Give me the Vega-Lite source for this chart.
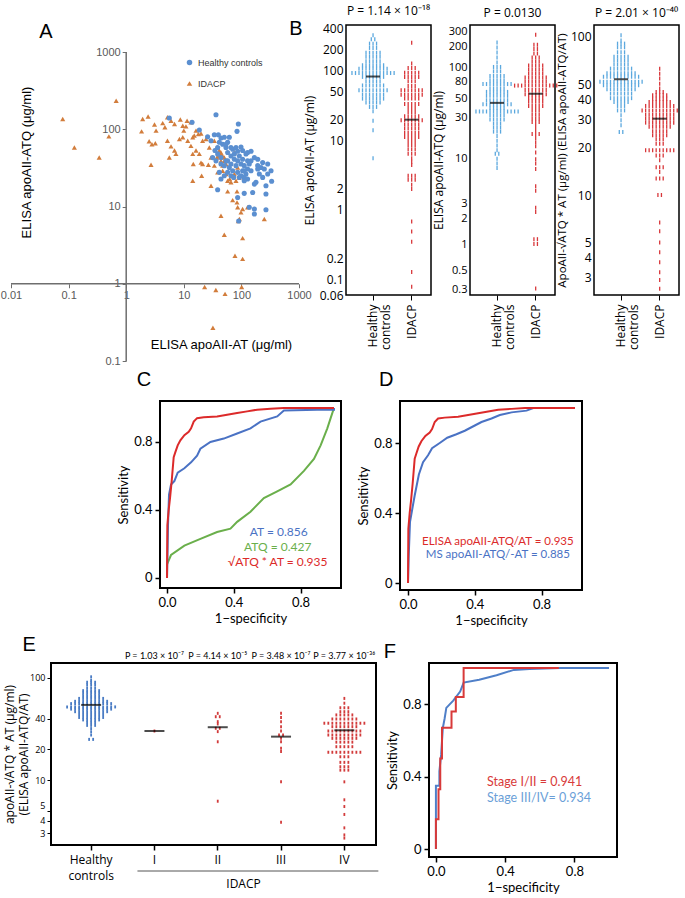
{
"$schema":"https://vega.github.io/schema/vega-lite/v6.json",
"padding":{"left":0,"top":3,"right":0,"bottom":0},
"background":"white",
"config":{"view":{"stroke":null},"font":"Open Sans","axis":{"grid":false,"labelColor":"#000","titleColor":"#000","tickColor":"#000","domainColor":"#000","titleFontWeight":"normal","labelFontSize":12,"titleFontSize":12,"labelFlush":false},"title":{"fontWeight":"normal","fontSize":12,"color":"#000"}},
"datasets":{
"a":[{"g":"D","x":0.079,"y":136},{"g":"D","x":0.126,"y":58},{"g":"D","x":0.34,"y":43},{"g":"D","x":0.5,"y":81},{"g":"D","x":0.67,"y":234},{"g":"D","x":23,"y":0.91},{"g":"D","x":36,"y":0.83},{"g":"D","x":52,"y":0.74},{"g":"D","x":101,"y":0.91},{"g":"D","x":32,"y":0.27},{"g":"D","x":1.93,"y":136},{"g":"D","x":2.4,"y":146},{"g":"D","x":3.1,"y":115},{"g":"D","x":1.85,"y":94},{"g":"D","x":2.5,"y":70},{"g":"D","x":2.8,"y":64},{"g":"D","x":3.2,"y":66},{"g":"D","x":2.7,"y":34.7},{"g":"D","x":4.7,"y":106},{"g":"D","x":6,"y":129},{"g":"D","x":8.7,"y":134},{"g":"D","x":6.9,"y":117},{"g":"D","x":5.2,"y":71},{"g":"D","x":6,"y":60},{"g":"D","x":6.9,"y":53},{"g":"D","x":7.3,"y":48},{"g":"D","x":5.6,"y":43},{"g":"D","x":5.2,"y":143},{"g":"D","x":4.3,"y":120},{"g":"D","x":3.3,"y":96},{"g":"D","x":9.6,"y":111},{"g":"D","x":10,"y":96},{"g":"D","x":10.9,"y":109},{"g":"D","x":11.4,"y":129},{"g":"D","x":13.3,"y":123},{"g":"D","x":8.4,"y":75},{"g":"D","x":9.6,"y":79},{"g":"D","x":11.7,"y":71},{"g":"D","x":14.3,"y":79},{"g":"D","x":16.3,"y":96},{"g":"D","x":15.2,"y":83},{"g":"D","x":17.9,"y":87},{"g":"D","x":19.9,"y":88},{"g":"D","x":21.2,"y":71},{"g":"D","x":13.3,"y":61},{"g":"D","x":14.3,"y":48},{"g":"D","x":16.3,"y":53},{"g":"D","x":18.6,"y":48},{"g":"D","x":19.9,"y":37},{"g":"D","x":21.2,"y":35.5},{"g":"D","x":14.6,"y":35.5},{"g":"D","x":14.3,"y":21.6},{"g":"D","x":20.4,"y":25},{"g":"D","x":24.3,"y":75},{"g":"D","x":27.7,"y":58},{"g":"D","x":29.7,"y":43},{"g":"D","x":26.7,"y":34.7},{"g":"D","x":29.7,"y":18.6},{"g":"D","x":33.9,"y":33.8},{"g":"D","x":37.7,"y":43},{"g":"D","x":41.4,"y":53},{"g":"D","x":44.2,"y":39},{"g":"D","x":38.7,"y":27.7},{"g":"D","x":47.3,"y":33.8},{"g":"D","x":50.5,"y":43},{"g":"D","x":54,"y":26.3},{"g":"D","x":57.7,"y":21.6},{"g":"D","x":65.9,"y":20.6},{"g":"D","x":37.7,"y":58},{"g":"D","x":33.9,"y":71},{"g":"D","x":43.1,"y":48},{"g":"D","x":47.3,"y":29},{"g":"D","x":62.5,"y":22.7},{"g":"D","x":75.4,"y":26.3},{"g":"D","x":80.6,"y":21.6},{"g":"D","x":75.4,"y":50},{"g":"D","x":86.1,"y":32},{"g":"D","x":92.1,"y":23.8},{"g":"D","x":83.9,"y":15.7},{"g":"D","x":57.7,"y":15.7},{"g":"D","x":70.5,"y":12.1},{"g":"D","x":83.9,"y":11.3},{"g":"D","x":86.1,"y":9.8},{"g":"D","x":98.4,"y":8.4},{"g":"D","x":105,"y":9.3},{"g":"D","x":92.1,"y":6.9},{"g":"D","x":88.5,"y":6.5},{"g":"D","x":128,"y":9.8},{"g":"D","x":44.2,"y":7.6},{"g":"D","x":50.5,"y":4.3},{"g":"D","x":105,"y":3.9},{"g":"D","x":77.4,"y":2.3},{"g":"D","x":105,"y":2.1},{"g":"D","x":250,"y":6.9},{"g":"D","x":39.5,"y":45},{"g":"D","x":44.2,"y":50},{"g":"D","x":50.5,"y":39},{"g":"D","x":47.3,"y":45},{"g":"D","x":54,"y":35.5},
{"g":"H","x":5.6,"y":140},{"g":"H","x":13.9,"y":123},{"g":"H","x":18.6,"y":98},{"g":"H","x":36.2,"y":154},{"g":"H","x":88.5,"y":117},{"g":"H","x":83.9,"y":94},{"g":"H","x":25.9,"y":80},{"g":"H","x":33.9,"y":85},{"g":"H","x":39.8,"y":85},{"g":"H","x":44.2,"y":77},{"g":"H","x":50.5,"y":79},{"g":"H","x":61.7,"y":79},{"g":"H","x":57.7,"y":68},{"g":"H","x":29.7,"y":71},{"g":"H","x":47.3,"y":64},{"g":"H","x":38.7,"y":58},{"g":"H","x":54,"y":58},{"g":"H","x":70.5,"y":55},{"g":"H","x":80.6,"y":58},{"g":"H","x":98.4,"y":59},{"g":"H","x":105,"y":53},{"g":"H","x":120,"y":48},{"g":"H","x":128,"y":50},{"g":"H","x":147,"y":52},{"g":"H","x":168,"y":43},{"g":"H","x":192,"y":41},{"g":"H","x":234,"y":37},{"g":"H","x":286,"y":35.5},{"g":"H","x":219,"y":32},{"g":"H","x":250,"y":30.6},{"g":"H","x":327,"y":29},{"g":"H","x":286,"y":26.3},{"g":"H","x":57.7,"y":50},{"g":"H","x":65.9,"y":45},{"g":"H","x":75.4,"y":41},{"g":"H","x":86.1,"y":39},{"g":"H","x":98.4,"y":35.5},{"g":"H","x":112,"y":33.8},{"g":"H","x":128,"y":30.6},{"g":"H","x":147,"y":29},{"g":"H","x":105,"y":29},{"g":"H","x":120,"y":26.3},{"g":"H","x":112,"y":23.8},{"g":"H","x":128,"y":22.7},{"g":"H","x":92.1,"y":23.8},{"g":"H","x":80.6,"y":33.8},{"g":"H","x":65.9,"y":35.5},{"g":"H","x":54,"y":39},{"g":"H","x":44.2,"y":43},{"g":"H","x":38.7,"y":48},{"g":"H","x":36.2,"y":39},{"g":"H","x":31.7,"y":43},{"g":"H","x":50.5,"y":33.8},{"g":"H","x":61.7,"y":32},{"g":"H","x":70.5,"y":29},{"g":"H","x":86.1,"y":27.7},{"g":"H","x":98.4,"y":25},{"g":"H","x":112,"y":21.6},{"g":"H","x":179,"y":20.6},{"g":"H","x":168,"y":19.5},{"g":"H","x":267,"y":18.6},{"g":"H","x":267,"y":14.5},{"g":"H","x":157,"y":15.2},{"g":"H","x":112,"y":14.8},{"g":"H","x":86.1,"y":13.1},{"g":"H","x":38.7,"y":16.5},{"g":"H","x":44.2,"y":22.7},{"g":"H","x":137,"y":9.8},{"g":"H","x":168,"y":9.3},{"g":"H","x":168,"y":8},{"g":"H","x":267,"y":9.1},{"g":"H","x":89.7,"y":6.5},{"g":"H","x":335,"y":21.2},{"g":"H","x":65.9,"y":25},{"g":"H","x":50.5,"y":25},{"g":"H","x":41.4,"y":27.7},{"g":"H","x":57.7,"y":39},{"g":"H","x":75.4,"y":48},{"g":"H","x":92.1,"y":45},{"g":"H","x":147,"y":39},{"g":"H","x":192,"y":33.8},{"g":"H","x":105,"y":41},{"g":"H","x":128,"y":39},{"g":"H","x":86.1,"y":52},{"g":"H","x":65.9,"y":58},{"g":"H","x":54,"y":64},{"g":"H","x":41.4,"y":68},{"g":"H","x":34.8,"y":53},{"g":"H","x":44.2,"y":35.5},{"g":"H","x":57.7,"y":27.7},{"g":"H","x":73.4,"y":23.8},{"g":"H","x":112,"y":29},{"g":"H","x":137,"y":35.5},{"g":"H","x":205,"y":26.3},{"g":"H","x":234,"y":23.8},{"g":"H","x":192,"y":30.6}],
"b1":[{"g":"H","v":320},{"g":"H","v":280},{"g":"H","v":280},{"g":"H","v":243},{"g":"H","v":243},{"g":"H","v":243},{"g":"H","v":211},{"g":"H","v":211},{"g":"H","v":211},{"g":"H","v":180},{"g":"H","v":180},{"g":"H","v":180},{"g":"H","v":180},{"g":"H","v":180},{"g":"H","v":157},{"g":"H","v":157},{"g":"H","v":157},{"g":"H","v":157},{"g":"H","v":157},{"g":"H","v":136},{"g":"H","v":136},{"g":"H","v":136},{"g":"H","v":136},{"g":"H","v":136},{"g":"H","v":119},{"g":"H","v":119},{"g":"H","v":119},{"g":"H","v":119},{"g":"H","v":119},{"g":"H","v":119},{"g":"H","v":119},{"g":"H","v":106},{"g":"H","v":106},{"g":"H","v":106},{"g":"H","v":106},{"g":"H","v":106},{"g":"H","v":106},{"g":"H","v":106},{"g":"H","v":106},{"g":"H","v":106},{"g":"H","v":92},{"g":"H","v":92},{"g":"H","v":92},{"g":"H","v":92},{"g":"H","v":92},{"g":"H","v":92},{"g":"H","v":92},{"g":"H","v":92},{"g":"H","v":92},{"g":"H","v":92},{"g":"H","v":92},{"g":"H","v":92},{"g":"H","v":92},{"g":"H","v":81},{"g":"H","v":81},{"g":"H","v":81},{"g":"H","v":81},{"g":"H","v":81},{"g":"H","v":81},{"g":"H","v":81},{"g":"H","v":70},{"g":"H","v":70},{"g":"H","v":70},{"g":"H","v":70},{"g":"H","v":70},{"g":"H","v":61},{"g":"H","v":61},{"g":"H","v":61},{"g":"H","v":61},{"g":"H","v":61},{"g":"H","v":61},{"g":"H","v":61},{"g":"H","v":52},{"g":"H","v":52},{"g":"H","v":52},{"g":"H","v":52},{"g":"H","v":52},{"g":"H","v":52},{"g":"H","v":52},{"g":"H","v":52},{"g":"H","v":52},{"g":"H","v":45},{"g":"H","v":45},{"g":"H","v":45},{"g":"H","v":45},{"g":"H","v":45},{"g":"H","v":45},{"g":"H","v":45},{"g":"H","v":39.5},{"g":"H","v":39.5},{"g":"H","v":39.5},{"g":"H","v":39.5},{"g":"H","v":39.5},{"g":"H","v":39.5},{"g":"H","v":39.5},{"g":"H","v":34.7},{"g":"H","v":34.7},{"g":"H","v":34.7},{"g":"H","v":34.7},{"g":"H","v":34.7},{"g":"H","v":30},{"g":"H","v":30},{"g":"H","v":30},{"g":"H","v":26},{"g":"H","v":19},{"g":"H","v":13.9},{"g":"H","v":5.5},
{"g":"D","v":251},{"g":"D","v":126},{"g":"D","v":109},{"g":"D","v":109},{"g":"D","v":109},{"g":"D","v":93},{"g":"D","v":93},{"g":"D","v":93},{"g":"D","v":93},{"g":"D","v":93},{"g":"D","v":81},{"g":"D","v":81},{"g":"D","v":81},{"g":"D","v":81},{"g":"D","v":81},{"g":"D","v":70},{"g":"D","v":70},{"g":"D","v":70},{"g":"D","v":60},{"g":"D","v":60},{"g":"D","v":60},{"g":"D","v":52},{"g":"D","v":52},{"g":"D","v":52},{"g":"D","v":52},{"g":"D","v":52},{"g":"D","v":52},{"g":"D","v":52},{"g":"D","v":45},{"g":"D","v":45},{"g":"D","v":45},{"g":"D","v":45},{"g":"D","v":45},{"g":"D","v":45},{"g":"D","v":45},{"g":"D","v":39.5},{"g":"D","v":39.5},{"g":"D","v":39.5},{"g":"D","v":39.5},{"g":"D","v":39.5},{"g":"D","v":33},{"g":"D","v":33},{"g":"D","v":33},{"g":"D","v":33},{"g":"D","v":33},{"g":"D","v":29},{"g":"D","v":29},{"g":"D","v":29},{"g":"D","v":25.4},{"g":"D","v":25.4},{"g":"D","v":25.4},{"g":"D","v":22},{"g":"D","v":22},{"g":"D","v":22},{"g":"D","v":22},{"g":"D","v":22},{"g":"D","v":19.4},{"g":"D","v":19.4},{"g":"D","v":19.4},{"g":"D","v":19.4},{"g":"D","v":19.4},{"g":"D","v":19.4},{"g":"D","v":19.4},{"g":"D","v":16.8},{"g":"D","v":16.8},{"g":"D","v":16.8},{"g":"D","v":16.8},{"g":"D","v":16.8},{"g":"D","v":14.7},{"g":"D","v":14.7},{"g":"D","v":14.7},{"g":"D","v":14.7},{"g":"D","v":14.7},{"g":"D","v":12.7},{"g":"D","v":12.7},{"g":"D","v":12.7},{"g":"D","v":12.7},{"g":"D","v":12.7},{"g":"D","v":11.1},{"g":"D","v":11.1},{"g":"D","v":11.1},{"g":"D","v":11.1},{"g":"D","v":11.1},{"g":"D","v":9.7},{"g":"D","v":9.7},{"g":"D","v":9.7},{"g":"D","v":8.5},{"g":"D","v":8.5},{"g":"D","v":8.5},{"g":"D","v":7.4},{"g":"D","v":7.4},{"g":"D","v":7.4},{"g":"D","v":6.4},{"g":"D","v":6.4},{"g":"D","v":6.4},{"g":"D","v":5.5},{"g":"D","v":4.9},{"g":"D","v":4.4},{"g":"D","v":3.1},{"g":"D","v":3.1},{"g":"D","v":3.1},{"g":"D","v":2.7},{"g":"D","v":2.7},{"g":"D","v":2.7},{"g":"D","v":2.3},{"g":"D","v":2.0},{"g":"D","v":0.68},{"g":"D","v":0.49},{"g":"D","v":0.35},{"g":"D","v":0.128},{"g":"D","v":0.079}],
"b2":[{"g":"H","v":225},{"g":"H","v":197},{"g":"H","v":172},{"g":"H","v":151},{"g":"H","v":132},{"g":"H","v":117},{"g":"H","v":117},{"g":"H","v":117},{"g":"H","v":104},{"g":"H","v":104},{"g":"H","v":104},{"g":"H","v":92},{"g":"H","v":92},{"g":"H","v":92},{"g":"H","v":92},{"g":"H","v":92},{"g":"H","v":82},{"g":"H","v":82},{"g":"H","v":82},{"g":"H","v":82},{"g":"H","v":82},{"g":"H","v":74},{"g":"H","v":74},{"g":"H","v":74},{"g":"H","v":74},{"g":"H","v":74},{"g":"H","v":74},{"g":"H","v":74},{"g":"H","v":74},{"g":"H","v":74},{"g":"H","v":66},{"g":"H","v":66},{"g":"H","v":66},{"g":"H","v":66},{"g":"H","v":66},{"g":"H","v":60},{"g":"H","v":60},{"g":"H","v":60},{"g":"H","v":60},{"g":"H","v":60},{"g":"H","v":60},{"g":"H","v":60},{"g":"H","v":54},{"g":"H","v":54},{"g":"H","v":54},{"g":"H","v":54},{"g":"H","v":54},{"g":"H","v":54},{"g":"H","v":54},{"g":"H","v":48},{"g":"H","v":48},{"g":"H","v":48},{"g":"H","v":48},{"g":"H","v":48},{"g":"H","v":48},{"g":"H","v":48},{"g":"H","v":43},{"g":"H","v":43},{"g":"H","v":43},{"g":"H","v":43},{"g":"H","v":43},{"g":"H","v":43},{"g":"H","v":43},{"g":"H","v":43},{"g":"H","v":43},{"g":"H","v":39},{"g":"H","v":39},{"g":"H","v":39},{"g":"H","v":39},{"g":"H","v":39},{"g":"H","v":35.5},{"g":"H","v":35.5},{"g":"H","v":35.5},{"g":"H","v":35.5},{"g":"H","v":35.5},{"g":"H","v":35.5},{"g":"H","v":35.5},{"g":"H","v":35.5},{"g":"H","v":35.5},{"g":"H","v":35.5},{"g":"H","v":35.5},{"g":"H","v":35.5},{"g":"H","v":35.5},{"g":"H","v":32},{"g":"H","v":32},{"g":"H","v":32},{"g":"H","v":32},{"g":"H","v":32},{"g":"H","v":28.7},{"g":"H","v":28.7},{"g":"H","v":28.7},{"g":"H","v":28.7},{"g":"H","v":28.7},{"g":"H","v":25.7},{"g":"H","v":25.7},{"g":"H","v":25.7},{"g":"H","v":23.1},{"g":"H","v":23.1},{"g":"H","v":23.1},{"g":"H","v":20.7},{"g":"H","v":20.7},{"g":"H","v":20.7},{"g":"H","v":18.4},{"g":"H","v":16.2},{"g":"H","v":14.3},{"g":"H","v":12.6},{"g":"H","v":11.4},{"g":"H","v":11.4},{"g":"H","v":10},{"g":"H","v":8.8},{"g":"H","v":7.8},
{"g":"D","v":277},{"g":"D","v":212},{"g":"D","v":212},{"g":"D","v":189},{"g":"D","v":189},{"g":"D","v":168},{"g":"D","v":168},{"g":"D","v":151},{"g":"D","v":151},{"g":"D","v":151},{"g":"D","v":135},{"g":"D","v":135},{"g":"D","v":135},{"g":"D","v":122},{"g":"D","v":122},{"g":"D","v":122},{"g":"D","v":122},{"g":"D","v":122},{"g":"D","v":109},{"g":"D","v":109},{"g":"D","v":109},{"g":"D","v":109},{"g":"D","v":109},{"g":"D","v":98},{"g":"D","v":98},{"g":"D","v":98},{"g":"D","v":98},{"g":"D","v":98},{"g":"D","v":88},{"g":"D","v":88},{"g":"D","v":88},{"g":"D","v":88},{"g":"D","v":88},{"g":"D","v":88},{"g":"D","v":88},{"g":"D","v":79},{"g":"D","v":79},{"g":"D","v":79},{"g":"D","v":79},{"g":"D","v":79},{"g":"D","v":79},{"g":"D","v":79},{"g":"D","v":71},{"g":"D","v":71},{"g":"D","v":71},{"g":"D","v":71},{"g":"D","v":71},{"g":"D","v":71},{"g":"D","v":71},{"g":"D","v":71},{"g":"D","v":71},{"g":"D","v":71},{"g":"D","v":71},{"g":"D","v":71},{"g":"D","v":71},{"g":"D","v":63},{"g":"D","v":63},{"g":"D","v":63},{"g":"D","v":63},{"g":"D","v":63},{"g":"D","v":63},{"g":"D","v":63},{"g":"D","v":56.5},{"g":"D","v":56.5},{"g":"D","v":56.5},{"g":"D","v":56.5},{"g":"D","v":56.5},{"g":"D","v":56.5},{"g":"D","v":56.5},{"g":"D","v":51},{"g":"D","v":51},{"g":"D","v":51},{"g":"D","v":51},{"g":"D","v":51},{"g":"D","v":46},{"g":"D","v":46},{"g":"D","v":46},{"g":"D","v":46},{"g":"D","v":46},{"g":"D","v":41},{"g":"D","v":41},{"g":"D","v":41},{"g":"D","v":41},{"g":"D","v":41},{"g":"D","v":37},{"g":"D","v":37},{"g":"D","v":37},{"g":"D","v":33},{"g":"D","v":33},{"g":"D","v":33},{"g":"D","v":29.7},{"g":"D","v":29.7},{"g":"D","v":29.7},{"g":"D","v":26.7},{"g":"D","v":26.7},{"g":"D","v":26.7},{"g":"D","v":24},{"g":"D","v":21.6},{"g":"D","v":19.4},{"g":"D","v":19.4},{"g":"D","v":19.4},{"g":"D","v":17.4},{"g":"D","v":15.6},{"g":"D","v":14},{"g":"D","v":11.8},{"g":"D","v":9.9},{"g":"D","v":8.8},{"g":"D","v":7.6},{"g":"D","v":4.8},{"g":"D","v":4.25},{"g":"D","v":2.7},{"g":"D","v":2.4},{"g":"D","v":1.16},{"g":"D","v":1.16},{"g":"D","v":1.02},{"g":"D","v":1.02},{"g":"D","v":0.31}],
"b3":[{"g":"H","v":102.5},{"g":"H","v":95},{"g":"H","v":90.7},{"g":"H","v":90.7},{"g":"H","v":90.7},{"g":"H","v":86},{"g":"H","v":86},{"g":"H","v":86},{"g":"H","v":80},{"g":"H","v":80},{"g":"H","v":80},{"g":"H","v":75},{"g":"H","v":75},{"g":"H","v":75},{"g":"H","v":75},{"g":"H","v":75},{"g":"H","v":71},{"g":"H","v":71},{"g":"H","v":71},{"g":"H","v":71},{"g":"H","v":71},{"g":"H","v":67},{"g":"H","v":67},{"g":"H","v":67},{"g":"H","v":67},{"g":"H","v":67},{"g":"H","v":63},{"g":"H","v":63},{"g":"H","v":63},{"g":"H","v":63},{"g":"H","v":63},{"g":"H","v":63},{"g":"H","v":63},{"g":"H","v":59},{"g":"H","v":59},{"g":"H","v":59},{"g":"H","v":59},{"g":"H","v":59},{"g":"H","v":59},{"g":"H","v":59},{"g":"H","v":59},{"g":"H","v":59},{"g":"H","v":56},{"g":"H","v":56},{"g":"H","v":56},{"g":"H","v":56},{"g":"H","v":56},{"g":"H","v":56},{"g":"H","v":56},{"g":"H","v":56},{"g":"H","v":56},{"g":"H","v":56},{"g":"H","v":56},{"g":"H","v":52},{"g":"H","v":52},{"g":"H","v":52},{"g":"H","v":52},{"g":"H","v":52},{"g":"H","v":52},{"g":"H","v":52},{"g":"H","v":52},{"g":"H","v":52},{"g":"H","v":52},{"g":"H","v":52},{"g":"H","v":52},{"g":"H","v":52},{"g":"H","v":49.5},{"g":"H","v":49.5},{"g":"H","v":49.5},{"g":"H","v":49.5},{"g":"H","v":49.5},{"g":"H","v":49.5},{"g":"H","v":49.5},{"g":"H","v":49.5},{"g":"H","v":49.5},{"g":"H","v":49.5},{"g":"H","v":49.5},{"g":"H","v":46.7},{"g":"H","v":46.7},{"g":"H","v":46.7},{"g":"H","v":46.7},{"g":"H","v":46.7},{"g":"H","v":46.7},{"g":"H","v":46.7},{"g":"H","v":46.7},{"g":"H","v":46.7},{"g":"H","v":43.8},{"g":"H","v":43.8},{"g":"H","v":43.8},{"g":"H","v":43.8},{"g":"H","v":43.8},{"g":"H","v":43.8},{"g":"H","v":43.8},{"g":"H","v":41},{"g":"H","v":41},{"g":"H","v":41},{"g":"H","v":41},{"g":"H","v":41},{"g":"H","v":41},{"g":"H","v":41},{"g":"H","v":38.8},{"g":"H","v":38.8},{"g":"H","v":38.8},{"g":"H","v":38.8},{"g":"H","v":38.8},{"g":"H","v":36.6},{"g":"H","v":36.6},{"g":"H","v":36.6},{"g":"H","v":34.3},{"g":"H","v":34.3},{"g":"H","v":34.3},{"g":"H","v":31.9},{"g":"H","v":29.7},{"g":"H","v":27.6},{"g":"H","v":25},{"g":"H","v":25},
{"g":"D","v":63},{"g":"D","v":58.6},{"g":"D","v":54.5},{"g":"D","v":50.6},{"g":"D","v":47.1},{"g":"D","v":44.9},{"g":"D","v":44.9},{"g":"D","v":44.9},{"g":"D","v":42.8},{"g":"D","v":42.8},{"g":"D","v":42.8},{"g":"D","v":42.8},{"g":"D","v":42.8},{"g":"D","v":40.7},{"g":"D","v":40.7},{"g":"D","v":40.7},{"g":"D","v":40.7},{"g":"D","v":40.7},{"g":"D","v":38.8},{"g":"D","v":38.8},{"g":"D","v":38.8},{"g":"D","v":38.8},{"g":"D","v":38.8},{"g":"D","v":38.8},{"g":"D","v":38.8},{"g":"D","v":36.6},{"g":"D","v":36.6},{"g":"D","v":36.6},{"g":"D","v":36.6},{"g":"D","v":36.6},{"g":"D","v":36.6},{"g":"D","v":36.6},{"g":"D","v":36.6},{"g":"D","v":36.6},{"g":"D","v":34.3},{"g":"D","v":34.3},{"g":"D","v":34.3},{"g":"D","v":34.3},{"g":"D","v":34.3},{"g":"D","v":34.3},{"g":"D","v":34.3},{"g":"D","v":34.3},{"g":"D","v":34.3},{"g":"D","v":34.3},{"g":"D","v":34.3},{"g":"D","v":32.2},{"g":"D","v":32.2},{"g":"D","v":32.2},{"g":"D","v":32.2},{"g":"D","v":32.2},{"g":"D","v":32.2},{"g":"D","v":32.2},{"g":"D","v":32.2},{"g":"D","v":32.2},{"g":"D","v":30.4},{"g":"D","v":30.4},{"g":"D","v":30.4},{"g":"D","v":30.4},{"g":"D","v":30.4},{"g":"D","v":30.4},{"g":"D","v":30.4},{"g":"D","v":30.4},{"g":"D","v":30.4},{"g":"D","v":28.7},{"g":"D","v":28.7},{"g":"D","v":28.7},{"g":"D","v":28.7},{"g":"D","v":28.7},{"g":"D","v":28.7},{"g":"D","v":28.7},{"g":"D","v":28.7},{"g":"D","v":28.7},{"g":"D","v":27},{"g":"D","v":27},{"g":"D","v":27},{"g":"D","v":27},{"g":"D","v":27},{"g":"D","v":27},{"g":"D","v":27},{"g":"D","v":25.3},{"g":"D","v":25.3},{"g":"D","v":25.3},{"g":"D","v":25.3},{"g":"D","v":25.3},{"g":"D","v":23.9},{"g":"D","v":23.9},{"g":"D","v":23.9},{"g":"D","v":23.9},{"g":"D","v":23.9},{"g":"D","v":22.5},{"g":"D","v":22.5},{"g":"D","v":22.5},{"g":"D","v":21.1},{"g":"D","v":21.1},{"g":"D","v":21.1},{"g":"D","v":19.2},{"g":"D","v":19.2},{"g":"D","v":19.2},{"g":"D","v":19.2},{"g":"D","v":19.2},{"g":"D","v":19.2},{"g":"D","v":19.2},{"g":"D","v":19.2},{"g":"D","v":19.2},{"g":"D","v":17.8},{"g":"D","v":17.8},{"g":"D","v":17.8},{"g":"D","v":16.6},{"g":"D","v":15},{"g":"D","v":15},{"g":"D","v":15},{"g":"D","v":14},{"g":"D","v":12.7},{"g":"D","v":12.7},{"g":"D","v":12.7},{"g":"D","v":10},{"g":"D","v":10},{"g":"D","v":6.7},{"g":"D","v":5.9},{"g":"D","v":5},{"g":"D","v":4.35},{"g":"D","v":3.75},{"g":"D","v":3.25},{"g":"D","v":2.9},{"g":"D","v":2.55}],
"e":[{"g":"I","v":30.2},{"g":"II","v":45},{"g":"II","v":41.7},{"g":"II","v":41.7},{"g":"II","v":37.3},{"g":"II","v":35.4},{"g":"II","v":32.1},{"g":"II","v":32.1},{"g":"II","v":29.8},{"g":"II","v":23.7},{"g":"II","v":6.2},{"g":"III","v":45},{"g":"III","v":40.9},{"g":"III","v":37.3},{"g":"III","v":33.3},{"g":"III","v":30.2},{"g":"III","v":27.6},{"g":"III","v":27.6},{"g":"III","v":25.6},{"g":"III","v":23.7},{"g":"III","v":20.5},{"g":"III","v":19},{"g":"III","v":9.6},{"g":"III","v":3.85},
{"g":"IV","v":63},{"g":"IV","v":56.5},{"g":"IV","v":51},{"g":"IV","v":51},{"g":"IV","v":51},{"g":"IV","v":46.7},{"g":"IV","v":46.7},{"g":"IV","v":46.7},{"g":"IV","v":43.4},{"g":"IV","v":43.4},{"g":"IV","v":43.4},{"g":"IV","v":43.4},{"g":"IV","v":43.4},{"g":"IV","v":39.6},{"g":"IV","v":39.6},{"g":"IV","v":39.6},{"g":"IV","v":39.6},{"g":"IV","v":39.6},{"g":"IV","v":39.6},{"g":"IV","v":39.6},{"g":"IV","v":36},{"g":"IV","v":36},{"g":"IV","v":36},{"g":"IV","v":36},{"g":"IV","v":36},{"g":"IV","v":36},{"g":"IV","v":36},{"g":"IV","v":36},{"g":"IV","v":36},{"g":"IV","v":36},{"g":"IV","v":36},{"g":"IV","v":33.3},{"g":"IV","v":33.3},{"g":"IV","v":33.3},{"g":"IV","v":33.3},{"g":"IV","v":33.3},{"g":"IV","v":33.3},{"g":"IV","v":33.3},{"g":"IV","v":30.2},{"g":"IV","v":30.2},{"g":"IV","v":30.2},{"g":"IV","v":30.2},{"g":"IV","v":30.2},{"g":"IV","v":30.2},{"g":"IV","v":30.2},{"g":"IV","v":30.2},{"g":"IV","v":30.2},{"g":"IV","v":27.6},{"g":"IV","v":27.6},{"g":"IV","v":27.6},{"g":"IV","v":27.6},{"g":"IV","v":27.6},{"g":"IV","v":27.6},{"g":"IV","v":27.6},{"g":"IV","v":27.6},{"g":"IV","v":27.6},{"g":"IV","v":25.6},{"g":"IV","v":25.6},{"g":"IV","v":25.6},{"g":"IV","v":25.6},{"g":"IV","v":25.6},{"g":"IV","v":25.6},{"g":"IV","v":25.6},{"g":"IV","v":23.5},{"g":"IV","v":23.5},{"g":"IV","v":23.5},{"g":"IV","v":23.5},{"g":"IV","v":23.5},{"g":"IV","v":21.2},{"g":"IV","v":21.2},{"g":"IV","v":21.2},{"g":"IV","v":21.2},{"g":"IV","v":21.2},{"g":"IV","v":18.7},{"g":"IV","v":18.7},{"g":"IV","v":18.7},{"g":"IV","v":18.7},{"g":"IV","v":18.7},{"g":"IV","v":18.7},{"g":"IV","v":18.7},{"g":"IV","v":18.7},{"g":"IV","v":18.7},{"g":"IV","v":16.9},{"g":"IV","v":16.9},{"g":"IV","v":16.9},{"g":"IV","v":14.9},{"g":"IV","v":14.9},{"g":"IV","v":14.9},{"g":"IV","v":13.5},{"g":"IV","v":13.5},{"g":"IV","v":13.5},{"g":"IV","v":12.5},{"g":"IV","v":12.5},{"g":"IV","v":12.5},{"g":"IV","v":9.6},{"g":"IV","v":6.4},{"g":"IV","v":5.5},{"g":"IV","v":4.6},{"g":"IV","v":3.4},{"g":"IV","v":2.9},{"g":"IV","v":2.7}],
"med":[{"p":"B1","g":"H","m":82},{"p":"B1","g":"D","m":19.7},{"p":"B2","g":"H","m":44.7},{"p":"B2","g":"D","m":57},{"p":"B3","g":"H","m":54},{"p":"B3","g":"D","m":30.4},{"p":"E","g":"H","m":54.4},{"p":"E","g":"I","m":30.2},{"p":"E","g":"II","m":32.9},{"p":"E","g":"III","m":26.6},{"p":"E","g":"IV","m":30.7}],
"roc":[{"s":"SQ","x":0,"y":0},{"s":"SQ","x":0.002,"y":0.31},{"s":"SQ","x":0.01,"y":0.4},{"s":"SQ","x":0.018,"y":0.47},{"s":"SQ","x":0.028,"y":0.57},{"s":"SQ","x":0.04,"y":0.71},{"s":"SQ","x":0.05,"y":0.74},{"s":"SQ","x":0.064,"y":0.78},{"s":"SQ","x":0.08,"y":0.81},{"s":"SQ","x":0.104,"y":0.84},{"s":"SQ","x":0.13,"y":0.86},{"s":"SQ","x":0.144,"y":0.88},{"s":"SQ","x":0.16,"y":0.92},{"s":"SQ","x":0.18,"y":0.94},{"s":"SQ","x":0.22,"y":0.945},{"s":"SQ","x":0.3,"y":0.95},{"s":"SQ","x":0.36,"y":0.96},{"s":"SQ","x":0.42,"y":0.97},{"s":"SQ","x":0.48,"y":0.98},{"s":"SQ","x":0.54,"y":0.99},{"s":"SQ","x":0.62,"y":0.995},{"s":"SQ","x":0.7,"y":1},{"s":"SQ","x":1,"y":1},
{"s":"AT","x":0,"y":0},{"s":"AT","x":0.004,"y":0.19},{"s":"AT","x":0.006,"y":0.31},{"s":"AT","x":0.012,"y":0.49},{"s":"AT","x":0.024,"y":0.55},{"s":"AT","x":0.044,"y":0.57},{"s":"AT","x":0.064,"y":0.62},{"s":"AT","x":0.104,"y":0.645},{"s":"AT","x":0.144,"y":0.68},{"s":"AT","x":0.18,"y":0.72},{"s":"AT","x":0.2,"y":0.76},{"s":"AT","x":0.26,"y":0.8},{"s":"AT","x":0.34,"y":0.82},{"s":"AT","x":0.42,"y":0.85},{"s":"AT","x":0.5,"y":0.88},{"s":"AT","x":0.56,"y":0.92},{"s":"AT","x":0.66,"y":0.95},{"s":"AT","x":0.7,"y":0.985},{"s":"AT","x":0.9,"y":0.99},{"s":"AT","x":1,"y":0.99},{"s":"AT","x":1,"y":1},
{"s":"ATQ","x":0,"y":0},{"s":"ATQ","x":0,"y":0.08},{"s":"ATQ","x":0.024,"y":0.135},{"s":"ATQ","x":0.104,"y":0.19},{"s":"ATQ","x":0.2,"y":0.23},{"s":"ATQ","x":0.3,"y":0.27},{"s":"ATQ","x":0.38,"y":0.29},{"s":"ATQ","x":0.42,"y":0.33},{"s":"ATQ","x":0.5,"y":0.39},{"s":"ATQ","x":0.58,"y":0.47},{"s":"ATQ","x":0.66,"y":0.51},{"s":"ATQ","x":0.74,"y":0.55},{"s":"ATQ","x":0.82,"y":0.63},{"s":"ATQ","x":0.88,"y":0.7},{"s":"ATQ","x":0.92,"y":0.78},{"s":"ATQ","x":0.96,"y":0.88},{"s":"ATQ","x":0.98,"y":0.94},{"s":"ATQ","x":1,"y":1},
{"s":"MS","x":0,"y":0},{"s":"MS","x":0.004,"y":0.15},{"s":"MS","x":0.012,"y":0.35},{"s":"MS","x":0.025,"y":0.42},{"s":"MS","x":0.04,"y":0.5},{"s":"MS","x":0.065,"y":0.62},{"s":"MS","x":0.09,"y":0.69},{"s":"MS","x":0.12,"y":0.73},{"s":"MS","x":0.144,"y":0.77},{"s":"MS","x":0.19,"y":0.8},{"s":"MS","x":0.235,"y":0.83},{"s":"MS","x":0.29,"y":0.85},{"s":"MS","x":0.34,"y":0.87},{"s":"MS","x":0.4,"y":0.9},{"s":"MS","x":0.44,"y":0.92},{"s":"MS","x":0.5,"y":0.94},{"s":"MS","x":0.55,"y":0.96},{"s":"MS","x":0.62,"y":0.975},{"s":"MS","x":0.71,"y":0.985},{"s":"MS","x":0.75,"y":1},{"s":"MS","x":1,"y":1},
{"s":"S12","x":0,"y":0},{"s":"S12","x":0,"y":0.165},{"s":"S12","x":0.015,"y":0.33},{"s":"S12","x":0.025,"y":0.5},{"s":"S12","x":0.035,"y":0.67},{"s":"S12","x":0.09,"y":0.76},{"s":"S12","x":0.115,"y":0.84},{"s":"S12","x":0.16,"y":1},{"s":"S12","x":0.71,"y":1},
{"s":"S34","x":0,"y":0},{"s":"S34","x":0,"y":0.35},{"s":"S34","x":0.02,"y":0.35},{"s":"S34","x":0.02,"y":0.43},{"s":"S34","x":0.03,"y":0.52},{"s":"S34","x":0.04,"y":0.67},{"s":"S34","x":0.05,"y":0.72},{"s":"S34","x":0.06,"y":0.78},{"s":"S34","x":0.1,"y":0.82},{"s":"S34","x":0.14,"y":0.87},{"s":"S34","x":0.16,"y":0.92},{"s":"S34","x":0.25,"y":0.935},{"s":"S34","x":0.35,"y":0.96},{"s":"S34","x":0.45,"y":0.99},{"s":"S34","x":0.54,"y":0.995},{"s":"S34","x":0.72,"y":1},{"s":"S34","x":1,"y":1}]
},
"spacing":2,
"resolve":{"scale":{"xOffset":"independent"}},
"vconcat":[
{"hconcat":[
 {"width":296,"height":336,
  "layer":[
   {"data":{"values":[{}]},"mark":{"type":"rule","color":"#6e6e6e","strokeWidth":1.5},"encoding":{"x":{"datum":1,"type":"quantitative"},"y":{"datum":0.1,"type":"quantitative"},"y2":{"datum":1000}}},
   {"data":{"values":[{}]},"mark":{"type":"rule","color":"#6e6e6e","strokeWidth":1.5},"encoding":{"x":{"datum":0.01,"type":"quantitative"},"x2":{"datum":1000},"y":{"datum":1,"type":"quantitative"}}},
   {"data":{"name":"a"},"mark":{"type":"point","filled":true,"size":26,"opacity":1},
    "encoding":{
     "x":{"field":"x","type":"quantitative","scale":{"type":"log","domain":[0.01,1377],"nice":false},"axis":{"orient":"bottom","offset":-77.25,"values":[0.01,0.1,1,10,100,1000],"labelExpr":"''+datum.value","labelFlush":false,"domain":false,"tickColor":"#6e6e6e","tickSize":4,"labelColor":"#595959","labelFontSize":11,"labelFont":"Liberation Sans","title":"ELISA apoAII-AT (μg/ml)","titleFont":"Liberation Sans","titleFontSize":13,"titleX":210,"titleY":61,"titleBaseline":"middle","titleAlign":"center"}},
     "y":{"field":"y","type":"quantitative","scale":{"type":"log","domain":[0.1,2238],"nice":false},"axis":{"orient":"left","offset":-115.2,"values":[0.1,1,10,100,1000],"labelExpr":"''+datum.value","domain":false,"tickColor":"#6e6e6e","tickSize":4,"labelColor":"#595959","labelFontSize":11,"labelFont":"Liberation Sans","title":"ELISA apoAII-ATQ (μg/ml)","titleFont":"Liberation Sans","titleFontSize":13,"titleX":-100,"titleY":137,"titleAngle":-90,"titleBaseline":"middle","titleAlign":"center"}},
     "color":{"field":"g","type":"nominal","scale":{"domain":["H","D"],"range":["#5b8fd0","#d27d3c"]},"legend":{"orient":"none","legendX":174,"legendY":33,"title":null,"labelExpr":"datum.value=='H'?'Healthy controls':'IDACP'","labelFont":"Liberation Sans","labelFontSize":9,"labelColor":"#333","symbolSize":30,"rowPadding":11,"padding":0}},
     "shape":{"field":"g","type":"nominal","scale":{"domain":["H","D"],"range":["circle","triangle-up"]}}}},
   {"data":{"values":[{}]},"mark":{"type":"text","fontSize":20,"font":"Liberation Sans","align":"center","baseline":"middle"},"encoding":{"x":{"datum":0.0405},"y":{"datum":1816},"text":{"value":"A"}}},
   {"data":{"values":[{}]},"mark":{"type":"text","fontSize":20,"font":"Liberation Sans","align":"center","baseline":"middle"},"encoding":{"x":{"datum":887},"y":{"datum":1987},"text":{"value":"B"}}}
  ]},
  {"width":85,"height":270,"view":{"stroke":"#000","strokeWidth":1.5},
   "title":{"text":"P = 1.14 × 10⁻¹⁸","offset":5},
   "layer":[
    {"data":{"name":"b1"},"transform":[{"window":[{"op":"row_number","as":"rn"}],"groupby":["g","v"]},{"joinaggregate":[{"op":"count","as":"n"}],"groupby":["g","v"]},{"calculate":"datum.rn-(datum.n+1)/2","as":"off"}],
     "mark":{"type":"point","shape":"M0,-1L0,1","filled":false,"size":16,"strokeWidth":1.3,"opacity":1},
     "encoding":{
      "x":{"field":"g","type":"nominal","scale":{"type":"band","domain":["H","D"],"paddingInner":0,"paddingOuter":0.1,"align":1},"axis":{"title":null,"labelAngle":-90,"labelAlign":"right","labelBaseline":"middle","labelExpr":"datum.value=='H'?['Healthy','controls']:'IDACP'","labelFontSize":12,"labelPadding":4,"tickSize":5,"domain":false,"labelLineHeight":13}},
      "xOffset":{"field":"off","type":"quantitative","scale":{"domain":[-5.5,5.5]}},
      "y":{"field":"v","type":"quantitative","scale":{"type":"log","domain":[0.06,450],"nice":false},"axis":{"values":[0.06,0.1,0.2,1,2,10,20,50,100,200,400],"labelExpr":"''+datum.value","labelOverlap":false,"title":"ELISA apoAII-AT (μg/ml)","ticks":false,"domain":false,"labelPadding":3,"titlePadding":3}},
      "color":{"condition":{"test":"datum.g=='H'","value":"#5ba8de"},"value":"#d8373a"}}},
    {"data":{"name":"med"},"transform":[{"filter":"datum.p=='B1'"}],"mark":{"type":"tick","color":"#000","size":14,"thickness":2},"encoding":{"x":{"field":"g","type":"nominal"},"y":{"field":"m","type":"quantitative"}}}
   ]},
  {"width":85,"height":270,"view":{"stroke":"#000","strokeWidth":1.5},
   "title":{"text":"P = 0.0130","offset":5},
   "layer":[
    {"data":{"name":"b2"},"transform":[{"window":[{"op":"row_number","as":"rn"}],"groupby":["g","v"]},{"joinaggregate":[{"op":"count","as":"n"}],"groupby":["g","v"]},{"calculate":"datum.rn-(datum.n+1)/2","as":"off"}],
     "mark":{"type":"point","shape":"M0,-1L0,1","filled":false,"size":16,"strokeWidth":1.3,"opacity":1},
     "encoding":{
      "x":{"field":"g","type":"nominal","scale":{"type":"band","domain":["H","D"],"paddingInner":0,"paddingOuter":0.1,"align":1},"axis":{"title":null,"labelAngle":-90,"labelAlign":"right","labelBaseline":"middle","labelExpr":"datum.value=='H'?['Healthy','controls']:'IDACP'","labelFontSize":12,"labelPadding":4,"tickSize":5,"domain":false,"labelLineHeight":13}},
      "xOffset":{"field":"off","type":"quantitative","scale":{"domain":[-5.5,5.5]}},
      "y":{"field":"v","type":"quantitative","scale":{"type":"log","domain":[0.26,360],"nice":false},"axis":{"values":[0.3,0.5,1,2,3,10,30,50,80,100,200,300],"labelExpr":"''+datum.value","labelOverlap":false,"labelBaseline":{"condition":{"test":"datum.value==100","value":"bottom"},"value":"middle"},"labelFontSize":11,"title":"ELISA apoAII-ATQ (μg/ml)","ticks":false,"domain":false,"labelPadding":3,"titlePadding":3}},
      "color":{"condition":{"test":"datum.g=='H'","value":"#5ba8de"},"value":"#d8373a"}}},
    {"data":{"name":"med"},"transform":[{"filter":"datum.p=='B2'"}],"mark":{"type":"tick","color":"#000","size":14,"thickness":2},"encoding":{"x":{"field":"g","type":"nominal"},"y":{"field":"m","type":"quantitative"}}}
   ]},
  {"width":85,"height":270,"view":{"stroke":"#000","strokeWidth":1.5},
   "title":{"text":"P = 2.01 × 10⁻⁴⁰","offset":5},
   "layer":[
    {"data":{"name":"b3"},"transform":[{"window":[{"op":"row_number","as":"rn"}],"groupby":["g","v"]},{"joinaggregate":[{"op":"count","as":"n"}],"groupby":["g","v"]},{"calculate":"datum.rn-(datum.n+1)/2","as":"off"}],
     "mark":{"type":"point","shape":"M0,-1L0,1","filled":false,"size":16,"strokeWidth":1.3,"opacity":1},
     "encoding":{
      "x":{"field":"g","type":"nominal","scale":{"type":"band","domain":["H","D"],"paddingInner":0,"paddingOuter":0.1,"align":1},"axis":{"title":null,"labelAngle":-90,"labelAlign":"right","labelBaseline":"middle","labelExpr":"datum.value=='H'?['Healthy','controls']:'IDACP'","labelFontSize":12,"labelPadding":4,"tickSize":5,"domain":false,"labelLineHeight":13}},
      "xOffset":{"field":"off","type":"quantitative","scale":{"domain":[-5.5,5.5]}},
      "y":{"field":"v","type":"quantitative","scale":{"type":"log","domain":[2.33,119],"nice":false},"axis":{"values":[3,4,5,10,20,30,40,50,100],"labelExpr":"''+datum.value","labelOverlap":false,"title":"ApoAII-√ATQ * AT  (μg/ml) (ELISA apoAII-ATQ/AT)","titleFontSize":11.5,"ticks":false,"domain":false,"labelPadding":3,"titlePadding":3}},
      "color":{"condition":{"test":"datum.g=='H'","value":"#5ba8de"},"value":"#d8373a"}}},
    {"data":{"name":"med"},"transform":[{"filter":"datum.p=='B3'"}],"mark":{"type":"tick","color":"#000","size":14,"thickness":2},"encoding":{"x":{"field":"g","type":"nominal"},"y":{"field":"m","type":"quantitative"}}}
   ]}
],"spacing":39,"bounds":"flush"},
{"hconcat":[
 {"width":90,"height":1,"data":{"values":[]},"mark":"point","encoding":{}},
 {"width":181,"height":187,"view":{"stroke":"#000","strokeWidth":2},
  "layer":[
   {"data":{"name":"roc"},"transform":[{"filter":"datum.s=='ATQ'"}],"mark":{"type":"line","color":"#6aaf4b","strokeWidth":2},
    "encoding":{"x":{"field":"x","type":"quantitative","scale":{"domain":[-0.042,1.042],"nice":false,"zero":false},"axis":{"values":[0,0.2,0.4,0.6,0.8,1],"format":".1f","title":"1−specificity","domain":false,"tickSize":5,"tickWidth":1.5,"labelFont":"Lato","titleFont":"Lato","labelFontSize":13,"titleFontSize":13,"labelPadding":3,"titlePadding":3}},
     "y":{"field":"y","type":"quantitative","scale":{"domain":[-0.059,1.041],"nice":false,"zero":false},"axis":{"values":[0,0.2,0.4,0.6,0.8,1],"labelExpr":"datum.value==0?'0':format(datum.value,'.1f')","title":"Sensitivity","domain":false,"tickSize":5,"tickWidth":1.5,"labelFont":"Lato","titleFont":"Lato","labelFontSize":13,"titleFontSize":13,"labelPadding":3,"titlePadding":3}},
     "order":[{"field":"x","type":"quantitative"},{"field":"y","type":"quantitative"}]}},
   {"data":{"name":"roc"},"transform":[{"filter":"datum.s=='AT'"}],"mark":{"type":"line","color":"#4a72c4","strokeWidth":2},"encoding":{"x":{"field":"x","type":"quantitative"},"y":{"field":"y","type":"quantitative"},"order":[{"field":"x","type":"quantitative"},{"field":"y","type":"quantitative"}]}},
   {"data":{"name":"roc"},"transform":[{"filter":"datum.s=='SQ'"}],"mark":{"type":"line","color":"#dc2a2a","strokeWidth":2},"encoding":{"x":{"field":"x","type":"quantitative"},"y":{"field":"y","type":"quantitative"},"order":[{"field":"x","type":"quantitative"},{"field":"y","type":"quantitative"}]}},
   {"data":{"values":[{"t":"AT = 0.856"}]},"mark":{"type":"text","color":"#4a72c4","fontSize":12,"font":"Lato"},"encoding":{"x":{"datum":0.669},"y":{"datum":0.272},"text":{"field":"t"}}},
   {"data":{"values":[{"t":"ATQ = 0.427"}]},"mark":{"type":"text","color":"#6aaf4b","fontSize":12,"font":"Lato"},"encoding":{"x":{"datum":0.663},"y":{"datum":0.184},"text":{"field":"t"}}},
   {"data":{"values":[{"t":"√ATQ * AT  = 0.935"}]},"mark":{"type":"text","color":"#dc2a2a","fontSize":12,"font":"Lato"},"encoding":{"x":{"datum":0.662},"y":{"datum":0.096},"text":{"field":"t"}}},
   {"data":{"values":[{}]},"mark":{"type":"text","fontSize":20,"font":"Liberation Sans","baseline":"middle"},"encoding":{"x":{"datum":-0.138},"y":{"datum":1.165},"text":{"value":"C"}}}
  ]},
 {"width":182,"height":189,"view":{"stroke":"#000","strokeWidth":2},
  "layer":[
   {"data":{"name":"roc"},"transform":[{"filter":"datum.s=='MS'"}],"mark":{"type":"line","color":"#4a72c4","strokeWidth":2},
    "encoding":{"x":{"field":"x","type":"quantitative","scale":{"domain":[-0.048,1.042],"nice":false,"zero":false},"axis":{"values":[0,0.2,0.4,0.6,0.8,1],"format":".1f","title":"1−specificity","domain":false,"tickSize":5,"tickWidth":1.5,"labelFont":"Lato","titleFont":"Lato","labelFontSize":13,"titleFontSize":13,"labelPadding":3,"titlePadding":3}},
     "y":{"field":"y","type":"quantitative","scale":{"domain":[-0.04,1.04],"nice":false,"zero":false},"axis":{"values":[0,0.2,0.4,0.6,0.8,1],"labelExpr":"datum.value==0?'0':format(datum.value,'.1f')","title":"Sensitivity","domain":false,"tickSize":5,"tickWidth":1.5,"labelFont":"Lato","titleFont":"Lato","labelFontSize":13,"titleFontSize":13,"labelPadding":3,"titlePadding":3}},
     "order":[{"field":"x","type":"quantitative"},{"field":"y","type":"quantitative"}]}},
   {"data":{"name":"roc"},"transform":[{"filter":"datum.s=='SQ'"}],"mark":{"type":"line","color":"#dc2a2a","strokeWidth":2},"encoding":{"x":{"field":"x","type":"quantitative"},"y":{"field":"y","type":"quantitative"},"order":[{"field":"x","type":"quantitative"},{"field":"y","type":"quantitative"}]}},
   {"data":{"values":[{"t":"ELISA apoAII-ATQ/AT = 0.935"}]},"mark":{"type":"text","color":"#dc2a2a","fontSize":11.5,"font":"Lato"},"encoding":{"x":{"datum":0.538},"y":{"datum":0.236},"text":{"field":"t"}}},
   {"data":{"values":[{"t":"MS apoAII-ATQ/-AT = 0.885"}]},"mark":{"type":"text","color":"#4a72c4","fontSize":11.5,"font":"Lato"},"encoding":{"x":{"datum":0.538},"y":{"datum":0.16},"text":{"field":"t"}}},
   {"data":{"values":[{}]},"mark":{"type":"text","fontSize":20,"font":"Liberation Sans","baseline":"middle"},"encoding":{"x":{"datum":-0.13},"y":{"datum":1.16},"text":{"value":"D"}}}
  ]}
],"spacing":59,"bounds":"flush"},
{"width":1,"height":2,"data":{"values":[]},"mark":"point","encoding":{}},
{"hconcat":[
 {"width":20,"height":1,"data":{"values":[]},"mark":"point","encoding":{}},
 {"width":325,"height":182,"view":{"stroke":"#000","strokeWidth":2},
  "layer":[
   {"data":{"name":"b3"},"transform":[{"filter":"datum.g=='H'"},{"window":[{"op":"row_number","as":"rn"}],"groupby":["g","v"]},{"joinaggregate":[{"op":"count","as":"n"}],"groupby":["g","v"]},{"calculate":"datum.rn-(datum.n+1)/2","as":"off"}],
    "mark":{"type":"point","shape":"M0,-1L0,1","filled":false,"size":9,"strokeWidth":1.8,"opacity":1,"color":"#4a7cc4"},
    "encoding":{
     "x":{"field":"g","type":"nominal","scale":{"type":"band","domain":["H","I","II","III","IV"],"paddingInner":0,"paddingOuter":0.067,"align":1},"axis":{"title":"IDACP","titleX":192,"titleY":38,"titleBaseline":"middle","titleAlign":"center","labelAngle":0,"labelExpr":"datum.value=='H'?['Healthy','controls']:datum.value","labelFontSize":12,"labelPadding":4,"labelLineHeight":16,"tickSize":5,"tickWidth":1.5,"domain":false}},
     "xOffset":{"field":"off","type":"quantitative","scale":{"domain":[-7.9,7.9]}},
     "y":{"field":"v","type":"quantitative","scale":{"type":"log","domain":[2.31,140],"nice":false},"axis":{"values":[3,4,5,10,20,40,100],"labelExpr":"''+datum.value","labelOverlap":false,"labelBaseline":{"condition":{"test":"datum.value==5","value":"bottom"},"value":"middle"},"labelFontSize":9,"title":["apoAII-√ATQ * AT  (μg/ml)","(ELISA apoAII-ATQ/AT)"],"titleFontSize":12,"titleX":-42,"titleY":91,"titleAngle":-90,"titleAlign":"center","titleBaseline":"middle","domain":false,"tickSize":4}}}},
   {"data":{"name":"e"},"transform":[{"window":[{"op":"row_number","as":"rn"}],"groupby":["g","v"]},{"joinaggregate":[{"op":"count","as":"n"}],"groupby":["g","v"]},{"calculate":"datum.rn-(datum.n+1)/2","as":"off"}],
    "mark":{"type":"point","shape":"M0,-1L0,1","filled":false,"size":9,"strokeWidth":1.8,"opacity":1,"color":"#d23b3b"},
    "encoding":{"x":{"field":"g","type":"nominal"},"xOffset":{"field":"off","type":"quantitative"},"y":{"field":"v","type":"quantitative"}}},
   {"data":{"name":"med"},"transform":[{"filter":"datum.p=='E'"}],"mark":{"type":"tick","color":"#000","size":20,"thickness":2},"encoding":{"x":{"field":"g","type":"nominal"},"y":{"field":"m","type":"quantitative"}}},
   {"data":{"values":[{"g":"I","t":"P = 1.03 × 10⁻⁷"},{"g":"II","t":"P = 4.14 × 10⁻⁵"},{"g":"III","t":"P = 3.48 × 10⁻⁷"},{"g":"IV","t":"P = 3.77 × 10⁻³⁶"}]},"mark":{"type":"text","fontSize":9,"font":"Lato","baseline":"middle"},"encoding":{"x":{"field":"g","type":"nominal"},"y":{"datum":165},"text":{"field":"t"}}},
   {"data":{"values":[{"a":"I","b":"IV"}]},"mark":{"type":"rule","color":"#555","strokeWidth":1,"xOffset":-17,"x2Offset":34},"encoding":{"x":{"field":"a","type":"nominal"},"x2":{"field":"b"},"y":{"datum":1.285}}},
   {"data":{"values":[{}]},"mark":{"type":"text","fontSize":20,"font":"Liberation Sans","baseline":"middle","dx":-62},"encoding":{"x":{"datum":"H","type":"nominal"},"y":{"datum":210},"text":{"value":"E"}}}
  ]},
 {"width":13,"height":1,"data":{"values":[]},"mark":"point","encoding":{}},
 {"width":188,"height":194,"view":{"stroke":"#000","strokeWidth":2},
  "layer":[
   {"data":{"name":"roc"},"transform":[{"filter":"datum.s=='S34'"}],"mark":{"type":"line","color":"#4f7fc8","strokeWidth":2},
    "encoding":{"x":{"field":"x","type":"quantitative","scale":{"domain":[-0.04,1.046],"nice":false,"zero":false},"axis":{"values":[0,0.2,0.4,0.6,0.8,1],"format":".1f","title":"1−specificity","domain":false,"tickSize":5,"tickWidth":1.5,"labelFont":"Lato","titleFont":"Lato","labelFontSize":13,"titleFontSize":13,"labelPadding":3,"titlePadding":3}},
     "y":{"field":"y","type":"quantitative","scale":{"domain":[-0.044,1.028],"nice":false,"zero":false},"axis":{"values":[0,0.2,0.4,0.6,0.8,1],"labelExpr":"datum.value==0?'0':format(datum.value,'.1f')","title":"Sensitivity","domain":false,"tickSize":5,"tickWidth":1.5,"labelFont":"Lato","titleFont":"Lato","labelFontSize":13,"titleFontSize":13,"labelPadding":3,"titlePadding":3}},
     "order":[{"field":"x","type":"quantitative"},{"field":"y","type":"quantitative"}]}},
   {"data":{"name":"roc"},"transform":[{"filter":"datum.s=='S12'"}],"mark":{"type":"line","color":"#d83a3a","strokeWidth":2,"interpolate":"step-after"},"encoding":{"x":{"field":"x","type":"quantitative"},"y":{"field":"y","type":"quantitative"},"order":[{"field":"x","type":"quantitative"},{"field":"y","type":"quantitative"}]}},
   {"data":{"values":[{"t":"Stage I/II = 0.941"}]},"mark":{"type":"text","color":"#d83a3a","fontSize":12.5,"font":"Lato","align":"left"},"encoding":{"x":{"datum":0.295},"y":{"datum":0.37},"text":{"field":"t"}}},
   {"data":{"values":[{"t":"Stage III/IV= 0.934"}]},"mark":{"type":"text","color":"#6b9fd8","fontSize":12.5,"font":"Lato","align":"left"},"encoding":{"x":{"datum":0.295},"y":{"datum":0.28},"text":{"field":"t"}}},
   {"data":{"values":[{}]},"mark":{"type":"text","fontSize":20,"font":"Liberation Sans","baseline":"middle"},"encoding":{"x":{"datum":-0.266},"y":{"datum":1.088},"text":{"value":"F"}}}
  ]}
],"spacing":20,"bounds":"flush"}
]
}
